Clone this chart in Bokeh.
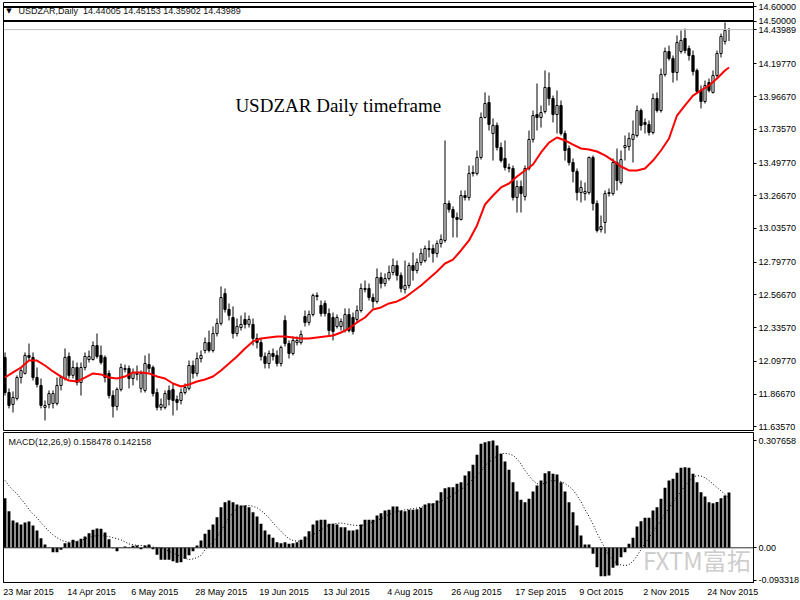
from bokeh.plotting import figure
from bokeh.layouts import column
from bokeh.models import (ColumnDataSource, FixedTicker, PrintfTickFormatter, Label, Range1d,
                          Span)
from bokeh.embed import file_html
from bokeh.resources import INLINE

# ---------------- data (USDZAR daily, 23 Mar 2015 .. end Nov 2015) ----------------
opens = [
    12.125, 11.877, 11.793, 11.835, 11.983, 12.012, 12.139, 12.125, 11.983, 11.927,
    11.772, 11.793, 11.800, 11.800, 11.927, 11.976, 12.132, 11.998, 12.054, 11.948,
    12.054, 12.110, 12.110, 12.209, 12.139, 12.125, 12.012, 11.856, 11.779, 11.899,
    12.040, 12.047, 11.976, 12.005, 11.906, 11.892, 12.075, 12.054, 11.877, 11.772,
    11.772, 11.892, 11.899, 11.828, 11.821, 11.877, 11.906, 12.068, 12.012, 12.117,
    12.174, 12.230, 12.174, 12.294, 12.365, 12.576, 12.464, 12.407, 12.294, 12.336,
    12.393, 12.358, 12.358, 12.259, 12.230, 12.132, 12.082, 12.153, 12.139, 12.082,
    12.386, 12.223, 12.153, 12.230, 12.230, 12.414, 12.372, 12.428, 12.562, 12.492,
    12.506, 12.435, 12.407, 12.343, 12.343, 12.315, 12.428, 12.407, 12.393, 12.456,
    12.605, 12.612, 12.548, 12.520, 12.689, 12.647, 12.682, 12.725, 12.774, 12.704,
    12.605, 12.633, 12.774, 12.739, 12.795, 12.809, 12.887, 12.894, 12.859, 12.929,
    12.951, 13.212, 13.169, 13.113, 13.099, 13.268, 13.254, 13.431, 13.424, 13.537,
    13.819, 13.925, 13.706, 13.763, 13.607, 13.530, 13.466, 13.459, 13.254, 13.332,
    13.261, 13.459, 13.664, 13.840, 13.819, 13.861, 14.031, 13.953, 13.840, 13.904,
    13.706, 13.600, 13.501, 13.438, 13.289, 13.282, 13.289, 13.537, 13.212, 13.028,
    13.078, 13.282, 13.282, 13.501, 13.360, 13.607, 13.614, 13.664, 13.692, 13.868,
    13.784, 13.770, 13.713, 13.953, 13.868, 14.123, 14.285, 14.236, 14.137, 14.285,
    14.377, 14.306, 14.257, 14.151, 14.010, 13.932, 14.066, 13.996, 14.116, 14.271,
    14.356, 14.44005,
]
highs = [
    12.160, 11.906, 11.885, 11.998, 12.054, 12.160, 12.223, 12.160, 12.054, 11.976,
    11.821, 11.892, 11.892, 11.983, 11.998, 12.188, 12.160, 12.103, 12.089, 12.089,
    12.160, 12.174, 12.238, 12.294, 12.209, 12.139, 12.033, 11.892, 11.913, 12.082,
    12.075, 12.068, 12.047, 12.068, 12.033, 12.139, 12.153, 12.068, 11.906, 11.835,
    11.892, 11.927, 11.941, 11.856, 11.906, 11.941, 12.103, 12.103, 12.160, 12.174,
    12.266, 12.315, 12.343, 12.400, 12.626, 12.612, 12.506, 12.485, 12.400, 12.421,
    12.442, 12.421, 12.400, 12.294, 12.259, 12.160, 12.174, 12.188, 12.174, 12.209,
    12.421, 12.245, 12.273, 12.273, 12.315, 12.456, 12.456, 12.576, 12.584, 12.527,
    12.527, 12.471, 12.442, 12.428, 12.400, 12.471, 12.471, 12.442, 12.492, 12.647,
    12.668, 12.647, 12.576, 12.753, 12.725, 12.718, 12.774, 12.824, 12.809, 12.725,
    12.809, 12.795, 12.866, 12.824, 12.894, 12.915, 12.951, 12.922, 12.951, 12.993,
    13.657, 13.233, 13.191, 13.148, 13.304, 13.304, 13.480, 13.480, 13.586, 13.854,
    13.996, 13.974, 13.812, 13.784, 13.642, 13.657, 13.494, 13.480, 13.374, 13.374,
    13.480, 13.727, 13.868, 14.059, 13.904, 14.151, 14.137, 13.974, 14.010, 13.939,
    13.727, 13.621, 13.530, 13.459, 13.374, 13.360, 13.544, 13.551, 13.233, 13.127,
    13.304, 13.318, 13.530, 13.600, 13.586, 13.692, 13.713, 13.798, 13.904, 13.883,
    13.812, 13.798, 13.988, 13.996, 14.165, 14.313, 14.327, 14.257, 14.398, 14.433,
    14.447, 14.327, 14.292, 14.165, 14.045, 14.080, 14.094, 14.151, 14.292, 14.412,
    14.490, 14.45153,
]
lows = [
    11.856, 11.765, 11.736, 11.821, 11.941, 12.005, 12.103, 11.962, 11.913, 11.765,
    11.680, 11.765, 11.765, 11.786, 11.892, 11.962, 11.976, 11.976, 11.927, 11.856,
    12.033, 12.089, 12.103, 12.117, 12.075, 11.948, 11.835, 11.701, 11.751, 11.885,
    12.019, 11.906, 11.927, 11.962, 11.877, 11.877, 12.019, 11.849, 11.751, 11.751,
    11.758, 11.786, 11.715, 11.751, 11.793, 11.863, 11.892, 11.976, 11.990, 12.089,
    12.153, 12.160, 12.160, 12.273, 12.351, 12.442, 12.386, 12.259, 12.273, 12.315,
    12.329, 12.336, 12.209, 12.188, 12.103, 12.047, 12.047, 12.103, 12.061, 12.061,
    12.202, 12.117, 12.139, 12.209, 12.216, 12.343, 12.351, 12.414, 12.527, 12.414,
    12.414, 12.273, 12.245, 12.329, 12.315, 12.301, 12.301, 12.287, 12.372, 12.442,
    12.584, 12.527, 12.471, 12.506, 12.612, 12.626, 12.668, 12.704, 12.668, 12.584,
    12.576, 12.612, 12.668, 12.718, 12.774, 12.795, 12.831, 12.795, 12.831, 12.901,
    12.936, 13.148, 12.972, 12.972, 13.092, 13.233, 13.233, 13.402, 13.410, 13.522,
    13.812, 13.727, 13.515, 13.586, 13.501, 13.445, 13.431, 13.233, 13.148, 13.148,
    13.233, 13.445, 13.642, 13.727, 13.748, 13.847, 13.904, 13.784, 13.706, 13.692,
    13.515, 13.480, 13.360, 13.233, 13.219, 13.233, 13.275, 13.162, 13.007, 13.007,
    13.000, 13.261, 13.268, 13.304, 13.346, 13.515, 13.586, 13.501, 13.678, 13.727,
    13.706, 13.692, 13.699, 13.854, 13.854, 14.108, 14.221, 14.066, 14.080, 14.271,
    14.271, 14.221, 14.116, 13.988, 13.883, 13.918, 13.996, 13.988, 14.101, 14.243,
    14.334, 14.35902,
]
closes = [
    11.877, 11.786, 11.842, 11.983, 12.033, 12.139, 12.125, 11.983, 11.934, 11.786,
    11.786, 11.870, 11.870, 11.927, 11.983, 12.125, 11.998, 12.054, 11.948, 12.054,
    12.132, 12.132, 12.209, 12.132, 12.089, 11.983, 11.856, 11.779, 11.899, 12.054,
    12.047, 11.976, 12.019, 12.012, 12.012, 12.082, 12.047, 11.870, 11.772, 11.793,
    11.870, 11.828, 11.821, 11.807, 11.877, 11.913, 12.068, 12.012, 12.117, 12.139,
    12.230, 12.174, 12.294, 12.365, 12.548, 12.464, 12.421, 12.294, 12.343, 12.358,
    12.358, 12.393, 12.259, 12.230, 12.132, 12.082, 12.153, 12.132, 12.082, 12.195,
    12.223, 12.153, 12.245, 12.245, 12.287, 12.372, 12.428, 12.562, 12.555, 12.435,
    12.435, 12.315, 12.308, 12.407, 12.379, 12.428, 12.315, 12.308, 12.456, 12.612,
    12.612, 12.548, 12.520, 12.689, 12.647, 12.682, 12.725, 12.774, 12.704, 12.612,
    12.633, 12.774, 12.739, 12.795, 12.859, 12.894, 12.894, 12.859, 12.929, 12.958,
    13.212, 13.169, 13.113, 13.099, 13.268, 13.254, 13.424, 13.424, 13.537, 13.819,
    13.918, 13.770, 13.763, 13.607, 13.515, 13.466, 13.459, 13.254, 13.332, 13.282,
    13.459, 13.664, 13.833, 13.819, 13.854, 14.031, 13.953, 13.840, 13.904, 13.706,
    13.586, 13.501, 13.438, 13.289, 13.325, 13.297, 13.537, 13.212, 13.021, 13.049,
    13.282, 13.289, 13.501, 13.374, 13.522, 13.621, 13.671, 13.699, 13.868, 13.763,
    13.770, 13.713, 13.953, 13.868, 14.123, 14.285, 14.236, 14.137, 14.348, 14.363,
    14.292, 14.257, 14.144, 14.003, 13.932, 14.045, 14.010, 14.116, 14.271, 14.391,
    14.433, 14.43989,
]

# red moving average, read at these bars
ma_bars = [0, 2, 4, 6, 8, 10, 12, 14, 16, 18, 20, 22, 24, 26, 28, 30, 32, 34, 36, 38,
           40, 42, 44, 46, 48, 50, 52, 54, 56, 58, 60, 62, 64, 66, 68, 70, 72, 74, 76, 78,
           80, 82, 84, 86, 88, 90, 92, 94, 96, 98, 100, 102, 104, 106, 108, 110, 112, 114,
           116, 118, 120, 122, 124, 126, 128, 130, 132, 134, 136, 138, 140, 142, 144, 146,
           148, 150, 152, 154, 156, 158, 160, 162, 164, 166, 168, 170, 172, 174, 176, 178,
           180, 181]
ma_vals = [
    11.983, 12.019, 12.054, 12.103, 12.103, 12.068, 12.026, 11.990, 11.962, 11.955,
    11.983, 12.012, 12.005, 11.983, 11.976, 11.990, 12.019, 12.019, 12.012, 11.990,
    11.976, 11.941, 11.920, 11.934, 11.955, 11.969, 11.990, 12.033, 12.082, 12.132,
    12.188, 12.238, 12.259, 12.266, 12.273, 12.273, 12.266, 12.259, 12.259, 12.266,
    12.273, 12.280, 12.301, 12.329, 12.372, 12.407, 12.464, 12.478, 12.506, 12.520,
    12.548, 12.590, 12.633, 12.682, 12.732, 12.788, 12.816, 12.880, 12.951, 13.057,
    13.205, 13.268, 13.325, 13.353, 13.402, 13.445, 13.487, 13.572, 13.642, 13.678,
    13.657, 13.628, 13.600, 13.593, 13.579, 13.551, 13.515, 13.473, 13.445, 13.445,
    13.459, 13.515, 13.586, 13.671, 13.833, 13.904, 13.974, 14.010, 14.045, 14.094,
    14.151, 14.172,
]

# MACD(12,26,9): histogram (main line) and dotted signal
macd = [
    0.1422, 0.1049, 0.0783, 0.0725, 0.0668, 0.0725, 0.0754, 0.0639, 0.0496, 0.0275,
    0.0095, 0.0010, -0.0126, -0.0126, -0.0057, 0.0132, 0.0152, 0.0229, 0.0189, 0.0258,
    0.0324, 0.0419, 0.0516, 0.0553, 0.0545, 0.0439, 0.0247, -0.0010, -0.0097, 0.0005,
    0.0037, 0.0017, 0.0057, 0.0066, -0.0040, 0.0066, 0.0095, -0.0040, -0.0201, -0.0344,
    -0.0344, -0.0344, -0.0384, -0.0430, -0.0413, -0.0315, -0.0212, -0.0097, 0.0066, 0.0209,
    0.0401, 0.0516, 0.0668, 0.0877, 0.1164, 0.1307, 0.1356, 0.1307, 0.1241, 0.1213,
    0.1213, 0.1164, 0.1021, 0.0897, 0.0688, 0.0496, 0.0381, 0.0287, 0.0161, 0.0132,
    0.0161, 0.0115, 0.0132, 0.0161, 0.0229, 0.0324, 0.0476, 0.0668, 0.0783, 0.0803,
    0.0803, 0.0688, 0.0688, 0.0668, 0.0591, 0.0591, 0.0496, 0.0496, 0.0525, 0.0668,
    0.0803, 0.0803, 0.0803, 0.0926, 0.0992, 0.1069, 0.1089, 0.1184, 0.1184, 0.1069,
    0.1049, 0.1089, 0.1089, 0.1107, 0.1147, 0.1241, 0.1279, 0.1279, 0.1356, 0.1594,
    0.1709, 0.1737, 0.1737, 0.1835, 0.1881, 0.2073, 0.2196, 0.2380, 0.2666, 0.2982,
    0.3028, 0.3056, 0.307658, 0.2933, 0.2695, 0.2474, 0.2236, 0.1881, 0.1614, 0.1376,
    0.1307, 0.1405, 0.1614, 0.1786, 0.1929, 0.2139, 0.2196, 0.2122, 0.2102, 0.1881,
    0.1614, 0.1307, 0.1021, 0.0639, 0.0353, 0.0095, 0.0095, -0.0172, -0.0556, -0.0814,
    -0.0814, -0.0794, -0.0573, -0.0507, -0.0269, -0.0126, 0.0115, 0.0287, 0.0611, 0.0763,
    0.0860, 0.0860, 0.1069, 0.1164, 0.1405, 0.1720, 0.1929, 0.1978, 0.2150, 0.2294,
    0.2311, 0.2294, 0.2122, 0.1881, 0.1594, 0.1471, 0.1307, 0.1279, 0.1310, 0.1420,
    0.1500, 0.158478,
]
signal = [
    0.193, 0.178, 0.165, 0.155, 0.140, 0.126, 0.110, 0.097, 0.086, 0.072,
    0.060, 0.047, 0.037, 0.029, 0.022, 0.018, 0.016, 0.017, 0.019, 0.021,
    0.025, 0.030, 0.033, 0.035, 0.035, 0.034, 0.032, 0.029, 0.026, 0.023,
    0.017, 0.011, 0.009, 0.007, 0.0066, 0.005, 0.0037, 0.002, 0.001, 0.000,
    -0.005, -0.010, -0.015, -0.020, -0.025, -0.030, -0.034, -0.032, -0.028, -0.022,
    -0.006, 0.006, 0.018, 0.030, 0.048, 0.068, 0.086, 0.102, 0.112, 0.118,
    0.121, 0.121, 0.119, 0.115, 0.107, 0.097, 0.086, 0.072, 0.059, 0.047,
    0.036, 0.026, 0.021, 0.019, 0.019, 0.022, 0.029, 0.037, 0.045, 0.052,
    0.058, 0.065, 0.068, 0.070, 0.071, 0.069, 0.067, 0.065, 0.064, 0.064,
    0.066, 0.070, 0.074, 0.079, 0.083, 0.089, 0.096, 0.100, 0.104, 0.107,
    0.109, 0.111, 0.112, 0.114, 0.116, 0.119, 0.121, 0.124, 0.128, 0.133,
    0.139, 0.145, 0.152, 0.160, 0.167, 0.175, 0.186, 0.197, 0.208, 0.220,
    0.235, 0.246, 0.255, 0.263, 0.270, 0.271, 0.269, 0.265, 0.255, 0.240,
    0.222, 0.207, 0.193, 0.184, 0.182, 0.185, 0.190, 0.193, 0.192, 0.190,
    0.184, 0.176, 0.166, 0.150, 0.132, 0.110, 0.090, 0.068, 0.042, 0.020,
    -0.002, -0.022, -0.035, -0.045, -0.049, -0.051, -0.048, -0.039, -0.023, -0.005,
    0.013, 0.029, 0.046, 0.062, 0.079, 0.097, 0.115, 0.130, 0.146, 0.162,
    0.178, 0.191, 0.202, 0.207, 0.206, 0.201, 0.193, 0.183, 0.173, 0.163,
    0.153, 0.142158,
]

price_ticks = [11.6357, 11.8667, 12.0977, 12.3357, 12.5667, 12.7977,
               13.0357, 13.2667, 13.4977, 13.7357, 13.9667, 14.1977]
level_lines = [14.60000, 14.50000]
bid_price = 14.43989
date_bars = [0, 16, 32, 48, 64, 80, 96, 112, 128, 144, 160, 176]
date_labels = ["23 Mar 2015", "14 Apr 2015", "6 May 2015", "28 May 2015", "19 Jun 2015",
               "13 Jul 2015", "4 Aug 2015", "26 Aug 2015", "17 Sep 2015", "9 Oct 2015",
               "2 Nov 2015", "24 Nov 2015"]
macd_ticks = [-0.093318, 0.0, 0.307658]

# ---------------- build ----------------
FONT = "Liberation Sans"
FS = "9px"
FRAME_W = 750
X0, X1 = -0.375, 187.125
PX_PER_BAR = FRAME_W / (X1 - X0)

# Arial-metric widths (per 1000 em) so the date labels start at their bar, MT4 style
_w = {" ": 278, "M": 833, "a": 556, "r": 333, "A": 667, "p": 556, "y": 500, "J": 500,
      "u": 556, "n": 556, "l": 222, "g": 556, "S": 667, "e": 556, "O": 778, "c": 500,
      "t": 278, "N": 722, "o": 556, "v": 500}


def _label_width_px(s, size=9.0):
    return sum(_w.get(ch, 556) for ch in s) * size / 1000.0


label_pos = [b - 0.45 + _label_width_px(l) / 2.0 / PX_PER_BAR
             for b, l in zip(date_bars, date_labels)]

n = min(len(opens), len(highs), len(lows), len(closes))
xs = list(range(n))
src = ColumnDataSource(dict(
    x=xs, open=opens[:n], high=highs[:n], low=lows[:n], close=closes[:n],
    top=[max(o, c) for o, c in zip(opens[:n], closes[:n])],
    bottom=[min(o, c) for o, c in zip(opens[:n], closes[:n])],
    fill=["white" if c >= o else "black" for o, c in zip(opens[:n], closes[:n])],
))

xr = Range1d(X0, X1)


def style_axis(ax, tick_out=3):
    ax.axis_line_color = "black"
    ax.major_tick_line_color = "black"
    ax.major_tick_out = tick_out
    ax.major_tick_in = 0
    ax.minor_tick_out = 0
    ax.minor_tick_in = 0
    ax.major_label_text_font = FONT
    ax.major_label_text_font_size = FS
    ax.major_label_text_color = "black"


p1 = figure(frame_width=FRAME_W, frame_height=428, x_range=xr,
            y_range=Range1d(11.609, 14.631),
            x_axis_location=None, y_axis_location="right", output_backend="svg",
            toolbar_location=None, min_border_left=3, min_border_right=44,
            min_border_top=2, min_border_bottom=1, title=None)
p1.grid.visible = False
p1.outline_line_color = "black"
p1.outline_line_width = 1

ya = p1.yaxis[0]
ya.ticker = FixedTicker(ticks=price_ticks + level_lines + [bid_price])
ya.formatter = PrintfTickFormatter(format="%.5f")
style_axis(ya)
ya.major_label_standoff = 2

for lv in level_lines:
    p1.add_layout(Span(location=lv, dimension="width", line_color="black", line_width=2))
p1.add_layout(Span(location=bid_price, dimension="width", line_color="#c0c0c0", line_width=1))

p1.segment(x0="x", y0="high", x1="x", y1="low", source=src, line_color="black", line_width=1)
p1.vbar(x="x", width=0.55, top="top", bottom="bottom", fill_color="fill",
        line_color="black", line_width=1, source=src)
p1.line(ma_bars, ma_vals, line_color="#ff0000", line_width=2)

p1.add_layout(Label(x=1.0, y=14.571, text="\u25bc", text_font="DejaVu Sans",
                    text_font_size="7px", text_baseline="middle", text_align="center",
                    text_color="black"))
p1.add_layout(Label(x=3.4, y=14.571,
                    text="USDZAR,Daily\u00a0\u00a014.44005 14.45153 14.35902 14.43989",
                    text_font=FONT, text_font_size=FS, text_baseline="middle",
                    text_align="left", text_color="#101010"))
p1.add_layout(Label(x=57.6, y=13.906, text="USDZAR Daily timeframe",
                    text_font="Liberation Serif", text_font_size="19px",
                    text_baseline="middle", text_align="left", text_color="black"))

p2 = figure(frame_width=FRAME_W, frame_height=150, x_range=xr,
            y_range=Range1d(-0.0995, 0.3306),
            y_axis_location="right", output_backend="svg", toolbar_location=None,
            min_border_left=3, min_border_right=44, min_border_top=1, min_border_bottom=0,
            title=None)
p2.grid.visible = False
p2.outline_line_color = "black"

ya2 = p2.yaxis[0]
ya2.ticker = FixedTicker(ticks=macd_ticks)
ya2.formatter = PrintfTickFormatter(format="%.6f")
ya2.major_label_overrides = {0: "0.00"}
style_axis(ya2)
ya2.major_label_standoff = 2

# bottom axis: date labels that start at their bar
xa = p2.xaxis[0]
xa.ticker = FixedTicker(ticks=label_pos)
xa.major_label_overrides = {p: l for p, l in zip(label_pos, date_labels)}
style_axis(xa, tick_out=0)
xa.major_label_standoff = 4

p2.add_layout(Span(location=0, dimension="width", line_color="#303030", line_width=1))
p2.vbar(x=xs, width=0.72, top=macd[:n], bottom=0, fill_color="black", line_color=None)
p2.line(xs, signal[:n], line_color="black", line_width=1, line_dash="1 2")

p2.add_layout(Label(x=0.9, y=0.3028, text="MACD(12,26,9) 0.158478 0.142158",
                    text_font=FONT, text_font_size=FS, text_baseline="middle",
                    text_align="left", text_color="#101010"))
p2.add_layout(Label(x=159.5, y=-0.0335, text="FXTM富拓", text_font="Noto Sans CJK SC",
                    text_font_size="24px", text_baseline="middle", text_align="left",
                    text_color="#c4c4c4", text_alpha=0.85))

layout = column(p1, p2)
open("out.html", "w").write(file_html(layout, INLINE))
